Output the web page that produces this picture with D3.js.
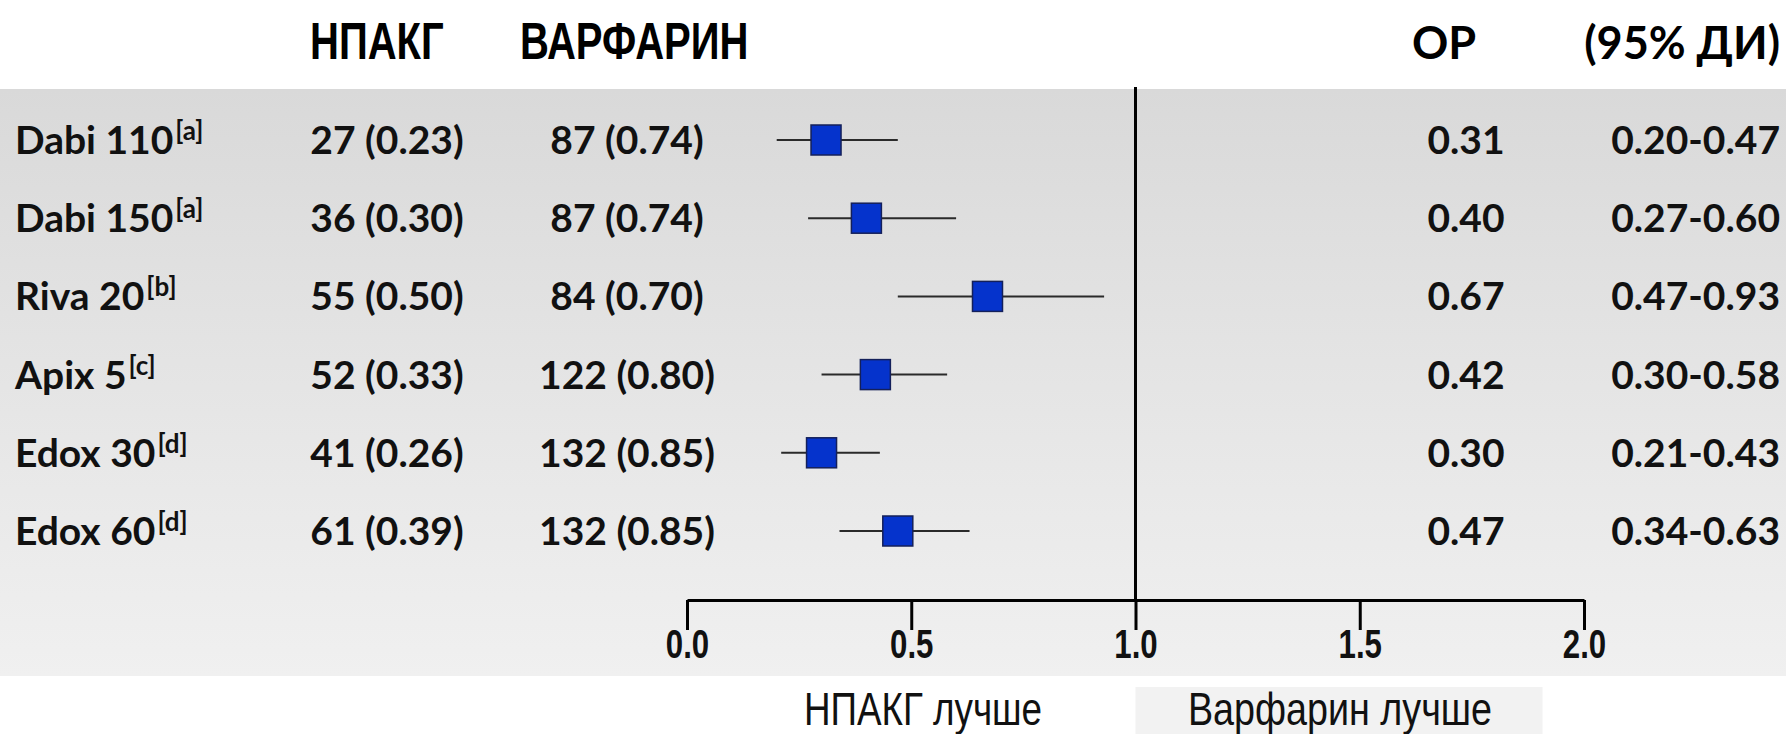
<!DOCTYPE html>
<html>
<head>
<meta charset="utf-8">
<script src="https://cdn.jsdelivr.net/npm/d3@7"></script>
<style>
  html, body { margin: 0; padding: 0; background: #ffffff; }
  svg { display: block; }
</style>
</head>
<body>
<svg id="chart" width="1786" height="734"></svg>
<script>
// Trial rows: name, reference letter, event counts (rate) per arm, hazard ratio with 95% CI
const studies = ["Dabi 110", "Dabi 150", "Riva 20", "Apix 5", "Edox 30", "Edox 60"];
const refs = ["a", "a", "b", "c", "d", "d"];
const noacEvents = ["27 (0.23)", "36 (0.30)", "55 (0.50)", "52 (0.33)", "41 (0.26)", "61 (0.39)"];
const warfarinEvents = ["87 (0.74)", "87 (0.74)", "84 (0.70)", "122 (0.80)", "132 (0.85)", "132 (0.85)"];
const hazardRatios = [0.31, 0.40, 0.67, 0.42, 0.30, 0.47];
const ciLow = [0.20, 0.27, 0.47, 0.30, 0.21, 0.34];
const ciHigh = [0.47, 0.60, 0.93, 0.58, 0.43, 0.63];
const xTicks = [0, 0.5, 1.0, 1.5, 2.0];
const headers = ["НПАКГ", "ВАРФАРИН", "ОР", "(95% ДИ)"];
const favourLabels = ["НПАКГ лучше", "Варфарин лучше"];

const rows = studies.map((s, i) => ({
  name: s, ref: refs[i], noac: noacEvents[i], warf: warfarinEvents[i],
  hr: hazardRatios[i], lo: ciLow[i], hi: ciHigh[i]
}));

const W = 1786, H = 734;
const svg = d3.select("#chart");
const defs = svg.append("defs");

// soft grey backdrop behind the table
const grad = defs.append("linearGradient")
  .attr("id", "panelGrad").attr("x1", 0).attr("y1", 0).attr("x2", 0).attr("y2", 1);
grad.append("stop").attr("offset", "0%").attr("stop-color", "#d9d9d9");
grad.append("stop").attr("offset", "55%").attr("stop-color", "#e6e6e6");
grad.append("stop").attr("offset", "100%").attr("stop-color", "#f0f0f0");

const panelTop = 89, panelBottom = 676;
svg.append("rect").attr("x", 0).attr("y", panelTop).attr("width", W)
  .attr("height", panelBottom - panelTop).attr("fill", "url(#panelGrad)");

// scales
const x = d3.scaleLinear().domain([0, 2]).range([687, 1584]);
const y = d3.scalePoint().domain(studies).range([140, 531]);

const boldFont = "Lato, 'Open Sans', sans-serif";
const narrowFont = "'Liberation Sans', Arial, sans-serif";

// horizontally condensed text, anchored at (px, py)
function condensedText(g, txt, px, py, size, weight, anchor, sx) {
  return g.append("text")
    .attr("transform", `translate(${px},${py}) scale(${sx},1)`)
    .attr("text-anchor", anchor)
    .attr("font-family", narrowFont)
    .attr("font-weight", weight)
    .attr("font-size", size)
    .attr("fill", "#000")
    .text(txt);
}

// column headers
const head = svg.append("g");
condensedText(head, headers[0], 310, 59, 52, 700, "start", 0.77);
condensedText(head, headers[1], 520, 59, 52, 700, "start", 0.77);
head.append("text").attr("x", 1412).attr("y", 59)
  .attr("font-family", boldFont).attr("font-weight", 700).attr("font-size", 45)
  .text(headers[2]);
head.append("text").attr("x", 1780).attr("y", 59).attr("text-anchor", "end")
  .attr("font-family", boldFont).attr("font-weight", 700).attr("font-size", 45)
  .text(headers[3]);

// table text
const tbl = svg.append("g")
  .attr("font-family", boldFont).attr("font-weight", 700).attr("font-size", 39).attr("fill", "#111");

const label = tbl.selectAll("text.study").data(rows).join("text")
  .attr("class", "study")
  .attr("x", 15).attr("y", d => y(d.name) + 14);
label.append("tspan").text(d => d.name);
label.append("tspan").attr("dx", 2).attr("dy", -14).attr("font-size", 26).text(d => `[${d.ref}]`);

tbl.selectAll("text.noac").data(rows).join("text")
  .attr("class", "noac").attr("text-anchor", "middle")
  .attr("x", 387).attr("y", d => y(d.name) + 14).text(d => d.noac);

tbl.selectAll("text.warf").data(rows).join("text")
  .attr("class", "warf").attr("text-anchor", "middle")
  .attr("x", 627).attr("y", d => y(d.name) + 14).text(d => d.warf);

tbl.selectAll("text.hr").data(rows).join("text")
  .attr("class", "hr").attr("text-anchor", "middle")
  .attr("x", 1466).attr("y", d => y(d.name) + 14).text(d => d.hr.toFixed(2));

tbl.selectAll("text.ci").data(rows).join("text")
  .attr("class", "ci").attr("text-anchor", "end")
  .attr("x", 1780).attr("y", d => y(d.name) + 14)
  .text(d => `${d.lo.toFixed(2)}-${d.hi.toFixed(2)}`);

// axis
const axisY = 600;
const axis = d3.axisBottom(x).tickValues(xTicks).tickFormat(d3.format(".1f"))
  .tickSize(30).tickSizeOuter(0).tickPadding(4);
const ax = svg.append("g").attr("transform", `translate(0,${axisY})`).call(axis);
ax.select(".domain").attr("stroke", "#000").attr("stroke-width", 3);
ax.selectAll(".tick line").attr("stroke", "#000").attr("stroke-width", 3);
ax.selectAll(".tick text").remove();
ax.selectAll(".tick").append("text")
  .attr("transform", "translate(0,58) scale(0.78,1)")
  .attr("text-anchor", "middle")
  .attr("font-family", narrowFont).attr("font-weight", 700).attr("font-size", 40)
  .attr("fill", "#111")
  .text(d => d3.format(".1f")(d));

// line of no effect
svg.append("line")
  .attr("x1", x(1)).attr("x2", x(1))
  .attr("y1", panelTop - 2).attr("y2", axisY)
  .attr("stroke", "#000").attr("stroke-width", 3);

// confidence intervals and point estimates
const marks = svg.append("g");
marks.selectAll("line.ci").data(rows).join("line")
  .attr("class", "ci")
  .attr("x1", d => x(d.lo)).attr("x2", d => x(d.hi))
  .attr("y1", d => y(d.name)).attr("y2", d => y(d.name))
  .attr("stroke", "#2a2a2a").attr("stroke-width", 2);

const box = 30;
marks.selectAll("rect.hr").data(rows).join("rect")
  .attr("class", "hr")
  .attr("x", d => x(d.hr) - box / 2).attr("y", d => y(d.name) - box / 2)
  .attr("width", box).attr("height", box)
  .attr("fill", "#0533cc").attr("stroke", "#14205a").attr("stroke-width", 1.5);

// favour labels below the axis
svg.append("rect").attr("x", x(1)).attr("y", 687).attr("width", 407).attr("height", H - 687)
  .attr("fill", "#f2f2f2");
condensedText(svg, favourLabels[0], 923, 725, 46, 400, "middle", 0.8).attr("fill", "#111");
condensedText(svg, favourLabels[1], 1340, 725, 46, 400, "middle", 0.82).attr("fill", "#111");
</script>
</body>
</html>
